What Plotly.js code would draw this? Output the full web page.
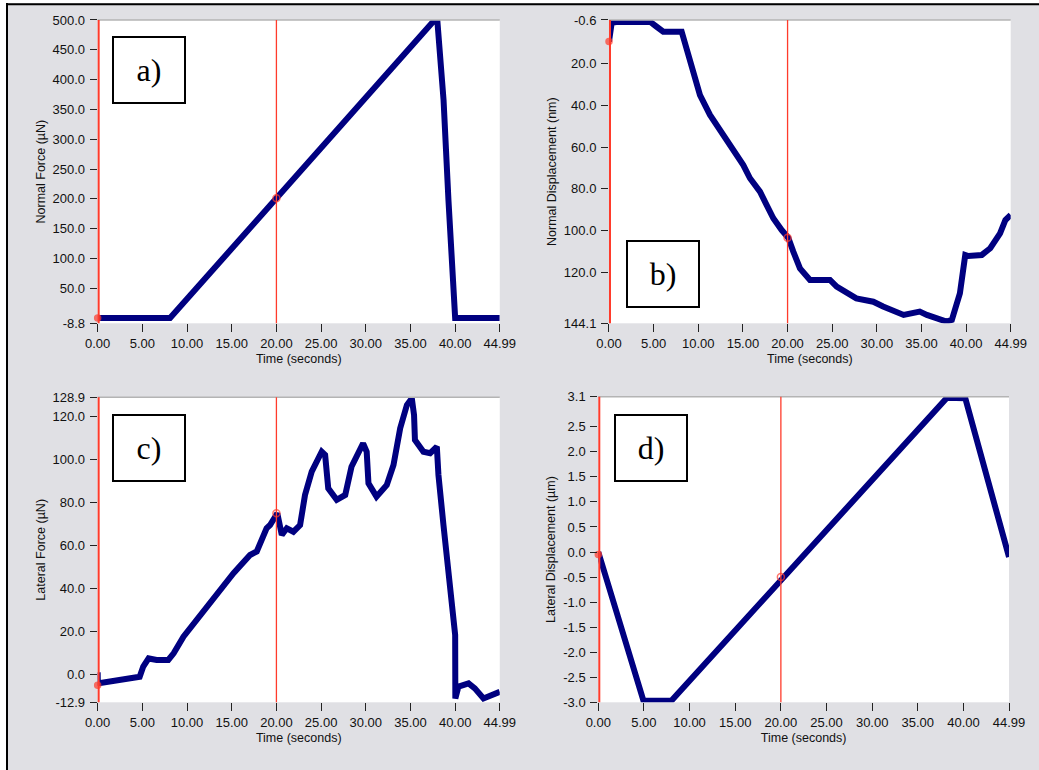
<!DOCTYPE html>
<html>
<head>
<meta charset="utf-8">
<script src="https://cdn.plot.ly/plotly-3.0.1.min.js"></script>
<style>
html,body{margin:0;padding:0;background:#fff;}
#chart{width:1039px;height:770px;}
</style>
</head>
<body>
<div id="chart"></div>
<script>
// ---------- data ----------
const timeA  = [0, 8.1, 20, 37.7, 38.0, 38.7, 39.25, 39.7, 40.0, 44.99];
const forceA = [0, 0, 201, 500, 500, 366, 198, 58, 0, 0];

const timeB = [0, 0.3, 1.0, 4.59, 5.3, 6.08, 8.14, 8.7, 9.44, 10.19, 11.31, 12.43, 13.55, 14.67, 15.04, 15.79, 16.91, 17.66, 18.4, 19.34, 20.08, 20.64, 21.39, 22.51, 24.75, 25.5, 26.25, 27.7, 29.6, 30.7, 33.0, 34.8, 35.6, 37.8, 38.4, 39.3, 39.9, 40.25, 41.75, 42.7, 43.8, 44.4, 44.99];
const dispB = [9.7, 0.7, 0.3, 0.2, 2.5, 5.0, 5.0, 12.9, 25.6, 35.2, 44.7, 51.9, 59.0, 65.4, 68.6, 74.9, 81.3, 87.7, 94.0, 99.6, 103.3, 109.9, 117.9, 123.4, 123.4, 126.6, 128.5, 132.2, 133.8, 136.1, 140.1, 138.5, 140.1, 143.3, 142.5, 129.8, 111.5, 112, 111.5, 108.3, 101.2, 94.8, 92.4];

const timeC  = [0, 0.02, 0.1, 4.7, 5.1, 5.7, 6.6, 7.9, 8.5, 9.6, 11.5, 13.3, 15.2, 17.05, 17.8, 18.9, 19.29, 20.1, 20.6, 21.16, 21.9, 22.65, 23.2, 23.95, 25.07, 25.45, 25.8, 26.75, 27.7, 28.4, 29.7, 30.1, 30.3, 31.2, 32.35, 33.1, 33.85, 34.6, 35.15, 35.4, 35.5, 36.45, 37.2, 37.95, 38.13, 38.69, 39.25, 39.8, 40.0, 40.02, 40.37, 41.5, 42.2, 43.17, 44.1, 44.99];
const forceC = [1, -5, -4.1, -1, 3.7, 7.5, 6.8, 6.8, 9.9, 17.6, 27.7, 37.8, 47.1, 55.6, 57.2, 68.0, 69.5, 75.0, 64.9, 68.0, 66.4, 69.5, 83.5, 94.3, 103.6, 102.1, 86.6, 81.2, 83.5, 96.6, 107.5, 103.6, 88.9, 82.7, 88.1, 97.4, 114.5, 125.3, 128.4, 120.7, 109, 103.6, 102.9, 105.9, 92.8, 69.5, 47.8, 26.1, 18.4, -11.1, -5.6, -4.1, -6.4, -11.1, -9.5, -8.0];

const timeD = [0, 4.95, 8.0, 38.2, 40.2, 44.99];
const dispD = [0, -2.97, -2.97, 3.08, 3.07, -0.1];

// cursor readouts (red markers at t = 0 and t = 20)
const cursorT = [0, 20];
const cursorA = [0, 201];
const cursorB = [9.7, 103.3];
const cursorC = [-5, 75];
const cursorD = [-0.05, -0.5];

// tick labels
const timeTicks = [0, 5, 10, 15, 20, 25, 30, 35, 40, 44.99];
const timeTickText = ['0.00','5.00','10.00','15.00','20.00','25.00','30.00','35.00','40.00','44.99'];
const yTicksA = [-8.8, 50, 100, 150, 200, 250, 300, 350, 400, 450, 500];
const yTextA = ['-8.8','50.0','100.0','150.0','200.0','250.0','300.0','350.0','400.0','450.0','500.0'];
const yTicksB = [-0.6, 20, 40, 60, 80, 100, 120, 144.1];
const yTextB = ['-0.6','20.0','40.0','60.0','80.0','100.0','120.0','144.1'];
const yTicksC = [-12.9, 0, 20, 40, 60, 80, 100, 120, 128.9];
const yTextC = ['-12.9','0.0','20.0','40.0','60.0','80.0','100.0','120.0','128.9'];
const yTicksD = [-3.0, -2.5, -2.0, -1.5, -1.0, -0.5, 0.0, 0.5, 1.0, 1.5, 2.0, 2.5, 3.1];
const yTextD = ['-3.0','-2.5','-2.0','-1.5','-1.0','-0.5','0.0','0.5','1.0','1.5','2.0','2.5','3.1'];

const panelLabels = ['a)', 'b)', 'c)', 'd)'];
const yTitles = ['Normal Force (µN)', 'Normal Displacement (nm)', 'Lateral Force (µN)', 'Lateral Displacement (µm)'];
const xTitle = 'Time (seconds)';

// ---------- styling ----------
const NAVY = '#000080';
const RED = '#FF3B2B';
const GREY = '#E0E0E4';
const FONT = 'Liberation Sans, Arial, sans-serif';

function curve(x, y, ax) {
  return {x: x, y: y, xaxis: 'x' + ax, yaxis: 'y' + ax, type: 'scatter', mode: 'lines',
          line: {color: NAVY, width: 6}, hoverinfo: 'skip'};
}
function cursor(y, ax) {
  return {x: cursorT, y: y, xaxis: 'x' + ax, yaxis: 'y' + ax, type: 'scatter', mode: 'markers',
          cliponaxis: false,
          marker: {symbol: ['circle', 'circle-open'], size: [6, 7], color: RED, line: {color: RED, width: 1.5}},
          hoverinfo: 'skip'};
}

const traces = [
  curve(timeA, forceA, ''), cursor(cursorA, ''),
  curve(timeB, dispB, '2'), cursor(cursorB, '2'),
  curve(timeC, forceC, '3'), cursor(cursorC, '3'),
  curve(timeD, dispD, '4'), cursor(cursorD, '4')
];

function xAxis(domain, anchor) {
  return {domain: domain, anchor: anchor, range: [0, 44.99], showgrid: false, zeroline: false,
          showline: false, ticks: 'outside', ticklen: 8, tickwidth: 1, tickcolor: '#222',
          tickvals: timeTicks, ticktext: timeTickText,
          tickfont: {family: FONT, size: 13, color: '#111'},
          title: {text: xTitle, font: {family: FONT, size: 12.5, color: '#111'}, standoff: 4}};
}
function yAxis(domain, anchor, range, vals, text, title) {
  return {domain: domain, anchor: anchor, range: range, showgrid: false, zeroline: false,
          showline: false, ticks: 'outside', ticklen: 7, tickwidth: 1, tickcolor: '#222',
          tickvals: vals, ticktext: text, ticklabelstandoff: 2,
          tickfont: {family: FONT, size: 13, color: '#111'},
          title: {text: title, font: {family: FONT, size: 12.5, color: '#111'}, standoff: 4}};
}

const dxL = [0.0940, 0.4810];
const dxB = [0.58614, 0.97276];
const dxD = [0.57584, 0.97113];
const dyT = [0.58013, 0.97403];
const dyC = [0.08792, 0.48403];
const dyD = [0.08792, 0.48481];

const shapes = [];
['', '2', '3', '4'].forEach(function (ax) {
  // grey frame line along the top of each plot area
  shapes.push({type: 'line', xref: 'x' + ax + ' domain', yref: 'y' + ax + ' domain',
               x0: 0, x1: 1, y0: 1, y1: 1, line: {color: '#B4B4B4', width: 1.5}});
  // red cursor lines at t = 0 and t = 20
  cursorT.forEach(function (t) {
    shapes.push({type: 'line', xref: 'x' + ax, yref: 'y' + ax + ' domain',
                 x0: t, x1: t, y0: 0, y1: 1, line: {color: RED, width: t === 0 ? 4 : 1.3}});
  });
});
// outer window frame: white margin and black border on top/left
shapes.push({type: 'rect', xref: 'paper', yref: 'paper', x0: -0.01, x1: 6 / 1039, y0: -0.01, y1: 1.01,
             fillcolor: '#FFFFFF', line: {width: 0}});
shapes.push({type: 'rect', xref: 'paper', yref: 'paper', x0: -0.01, x1: 1.01, y0: 1 - 3 / 770, y1: 1.01,
             fillcolor: '#FFFFFF', line: {width: 0}});
shapes.push({type: 'line', xref: 'paper', yref: 'paper', x0: 7 / 1039, x1: 7 / 1039, y0: -0.01, y1: 1 - 3 / 770,
             line: {color: '#000', width: 2}});
shapes.push({type: 'line', xref: 'paper', yref: 'paper', x0: 6 / 1039, x1: 1.01, y0: 1 - 4.3 / 770, y1: 1 - 4.3 / 770,
             line: {color: '#000', width: 2}});

const labelPos = [[149 / 1039, 1 - 70 / 770], [662.8 / 1039, 1 - 273.5 / 770],
                  [148.5 / 1039, 1 - 447.7 / 770], [650.8 / 1039, 1 - 447.7 / 770]];
const annotations = panelLabels.map(function (lbl, i) {
  return {text: lbl, xref: 'paper', yref: 'paper', x: labelPos[i][0], y: labelPos[i][1],
          xanchor: 'center', yanchor: 'middle', showarrow: false,
          width: 70, height: 64, borderwidth: 2, borderpad: 0, bordercolor: '#000', bgcolor: '#FFFFFF',
          font: {family: 'Liberation Serif, Times New Roman, serif', size: 32, color: '#000'}};
});

const layout = {
  width: 1039, height: 770, margin: {l: 0, r: 0, t: 0, b: 0},
  paper_bgcolor: GREY, plot_bgcolor: '#FFFFFF', showlegend: false,
  xaxis: xAxis(dxL, 'y'),
  yaxis: yAxis(dyT, 'x', [-8.8, 500], yTicksA, yTextA, yTitles[0]),
  xaxis2: xAxis(dxB, 'y2'),
  yaxis2: yAxis(dyT, 'x2', [144.1, -0.6], yTicksB, yTextB, yTitles[1]),
  xaxis3: xAxis(dxL, 'y3'),
  yaxis3: yAxis(dyC, 'x3', [-12.9, 128.9], yTicksC, yTextC, yTitles[2]),
  xaxis4: xAxis(dxD, 'y4'),
  yaxis4: yAxis(dyD, 'x4', [-3.0, 3.1], yTicksD, yTextD, yTitles[3]),
  shapes: shapes,
  annotations: annotations
};

Plotly.newPlot('chart', traces, layout, {displayModeBar: false, staticPlot: true});
</script>
</body>
</html>
